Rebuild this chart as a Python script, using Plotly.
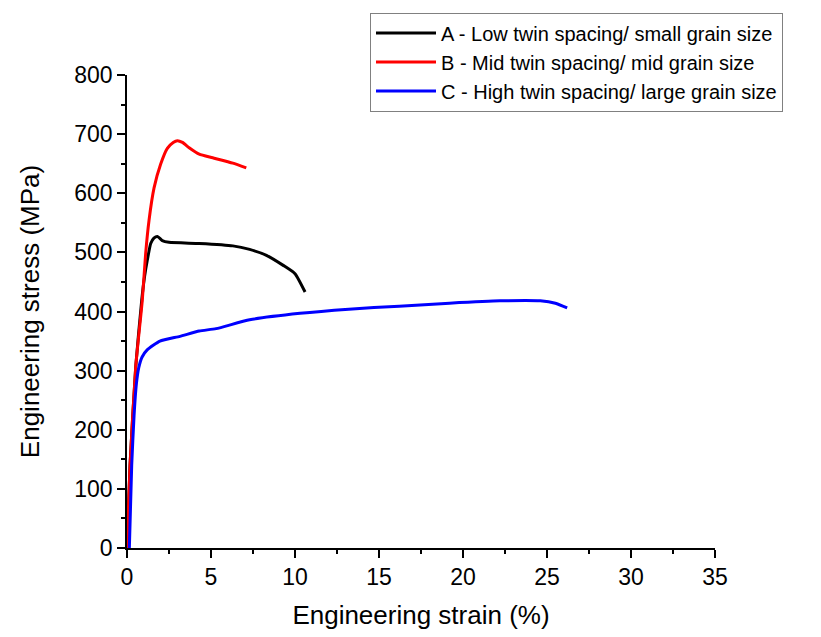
import plotly.graph_objects as go

# Data
strain_A = [0.0, 0.18, 0.52, 0.88, 1.05, 1.21, 1.41, 1.6, 1.81, 2.1, 2.5, 4.3, 6.3, 7.3, 8.3, 9.3, 10.0, 10.6]
stress_A = [0, 140, 307, 420, 460, 487, 515, 524, 527, 520, 517, 515, 511, 505, 495, 478, 464, 433]

strain_B = [0.0, 0.18, 0.52, 0.91, 1.11, 1.31, 1.61, 2.0, 2.4, 2.75, 3.0, 3.3, 3.7, 4.3, 5.1, 6.3, 7.1]
stress_B = [0, 140, 307, 419, 498, 554, 609, 649, 676, 686, 689, 686, 677, 666, 660, 651, 643]

strain_C = [0.14, 0.28, 0.42, 0.56, 0.7, 0.9, 1.2, 1.96, 3.15, 4.3, 5.3, 7.3, 10.3, 13.2, 16.2, 19.2, 22.2, 24.6, 25.5, 26.2]
stress_C = [0, 140, 224, 278, 305, 323, 335, 350, 358, 367, 371, 386, 397, 404, 409, 414, 418, 418, 414, 406]

names = ["A - Low twin spacing/ small grain size",
         "B - Mid twin spacing/ mid grain size",
         "C - High twin spacing/ large grain size"]
colors = ["#000000", "#ff0000", "#0000ff"]

x_ticks = [0, 5, 10, 15, 20, 25, 30, 35]
y_ticks = [0, 100, 200, 300, 400, 500, 600, 700, 800]

fig = go.Figure()
for xs, ys, n, c in [(strain_A, stress_A, names[0], colors[0]),
                     (strain_B, stress_B, names[1], colors[1]),
                     (strain_C, stress_C, names[2], colors[2])]:
    fig.add_trace(go.Scatter(x=xs, y=ys, mode="lines", name=n,
                             line=dict(color=c, width=3, shape="spline", smoothing=0.5)))

font_family = "Liberation Sans, Arial, sans-serif"
fig.update_layout(
    width=821, height=637,
    margin=dict(l=127, r=106, t=73, b=87),
    paper_bgcolor="white", plot_bgcolor="white",
    font=dict(family=font_family, color="black"),
    legend=dict(x=(370 - 127) / 588, y=1 + 63 / 477, xanchor="left", yanchor="top",
                bordercolor="#808080", borderwidth=1, bgcolor="white",
                font=dict(size=20, family=font_family), tracegroupgap=0,
                itemwidth=60),
    showlegend=True,
)
fig.update_xaxes(range=[0, 35], tickvals=x_ticks, ticktext=[str(v) for v in x_ticks],
                 showgrid=False, zeroline=False, showline=True, linecolor="black", linewidth=1.5,
                 ticks="outside", ticklen=8, tickwidth=1.5, tickcolor="black",
                 tickfont=dict(size=23),
                 minor=dict(dtick=2.5, tick0=0, ticks="outside", ticklen=4, tickwidth=1.5, tickcolor="black"),
                 title=dict(text="Engineering strain (%)", font=dict(size=26), standoff=16))
fig.update_yaxes(range=[0, 800], tickvals=y_ticks, ticktext=[str(v) for v in y_ticks],
                 showgrid=False, zeroline=False, showline=True, linecolor="black", linewidth=1.5,
                 ticks="outside", ticklen=8, tickwidth=1.5, tickcolor="black",
                 tickfont=dict(size=23),
                 minor=dict(dtick=50, tick0=0, ticks="outside", ticklen=4, tickwidth=1.5, tickcolor="black"),
                 title=dict(text="Engineering stress (MPa)", font=dict(size=26), standoff=27))

fig.write_html("out.html")
